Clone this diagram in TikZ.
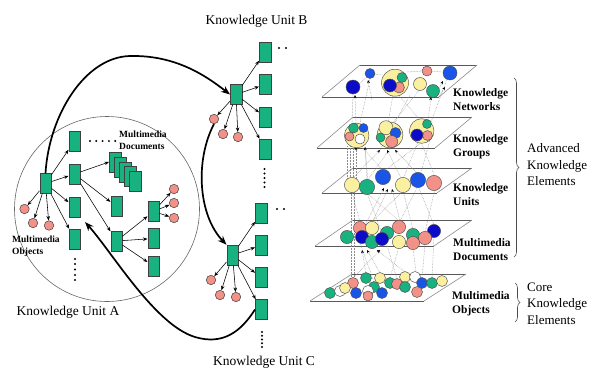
\documentclass[tikz,border=0pt]{standalone}
\usepackage{fontspec}
\setmainfont{Liberation Serif}
\usetikzlibrary{arrows.meta,decorations.pathreplacing}
\definecolor{kgreen}{RGB}{24,178,128}
\definecolor{kpink}{RGB}{242,145,135}
\definecolor{kdblue}{RGB}{12,12,200}
\definecolor{kblue}{RGB}{25,85,230}
\definecolor{kyellow}{RGB}{250,240,160}
\newcommand\kcirc[4]{\filldraw[fill=#1,draw=black!70,line width=0.45pt] (#2,#3) circle[radius=#4pt];}
\begin{document}
\begin{tikzpicture}[x=1pt,y=-1pt,
  box/.style={draw=black!75,fill=kgreen,minimum width=11.5pt,minimum height=20pt,inner sep=0pt,line width=0.5pt},
  obj/.style={circle,draw=black!75,fill=kpink,minimum size=9.5pt,inner sep=0pt,line width=0.5pt},
  arr/.style={-{Stealth[length=4.5pt,width=3.5pt]},line width=0.55pt},
  bigarr/.style={-{Stealth[length=9pt,width=7pt]},line width=1.7pt},
  dotl/.style={draw=black!45,densely dotted,line width=0.5pt},
  tipend/.style={-{Stealth[length=3.2pt,width=2.8pt,color=black]}},
  hedge/.style={draw=black!65,line width=0.8pt},
  sedge/.style={draw=black!45,line width=0.6pt},
  title/.style={font=\fontsize{13.5}{16}\selectfont},
  small/.style={font=\bfseries\fontsize{9.5}{12}\selectfont,align=left,inner sep=0pt},
  lbl/.style={font=\bfseries\fontsize{11.5}{14}\selectfont,align=left,inner sep=0pt,anchor=west},
  biglbl/.style={font=\fontsize{13}{16.5}\selectfont,align=left,inner sep=0pt,anchor=west},
  dotm/.style={fill=black},
  brc/.style={decorate,decoration={brace,amplitude=5pt},draw=black!70,line width=0.6pt}]
\fill[white] (0,0) rectangle (599,370);
\useasboundingbox (0,0) rectangle (599,370);

% ===== Knowledge Unit A =====
\draw[black!60,line width=0.6pt] (107,209) circle[radius=92.5pt];
\node[box] (a0) at (45.5,183.5) {};
\foreach \n/\y in {1/141,2/174,3/207,4/239} \node[box] (a\n) at (74.5,\y) {};
\foreach \k in {0,...,4} \node[box] (d\k) at ({115+5*\k},{162+4.9*\k}) {};
\node[box] (m1) at (116.5,206.5) {};
\node[box] (m2) at (116.5,241) {};
\node[box] (e1) at (153.5,211.5) {};
\node[box] (e2) at (153.5,238.5) {};
\node[box] (e3) at (153.5,266) {};
\node[obj] (o1) at (174,189) {};
\node[obj] (o2) at (174,203) {};
\node[obj] (o3) at (174,218) {};
\node[obj] (p1) at (24.5,209) {};
\node[obj] (p2) at (33,223) {};
\node[obj] (p3) at (49,225.5) {};
\foreach \t in {a1,a2,a3,a4,p1,p2,p3} \draw[arr] (a0) -- (\t);
\draw[arr] (a2) -- (d0.west);
\draw[arr] (a2) -- (m1);
\draw[arr] (a2) -- (m2);
\foreach \t in {e1,e2,e3} \draw[arr] (m2) -- (\t);
\foreach \t in {o1,o2,o3} \draw[arr] (e1) -- (\t);
\foreach \x in {90,96.3,102.6,108.9,115.2} \fill[dotm] (\x,141) circle[radius=1.1pt];
\foreach \y in {259,264,269.5,275,280} \fill[dotm] (75,\y) circle[radius=1.1pt];
\node[small,anchor=west] (mdoc) at (119,140) {Multimedia\\Documents};
\node[small,anchor=west] (mobj) at (12,246) {Multimedia\\Objects};
\node[title] (ta) at (68,312) {Knowledge Unit A};

% ===== Knowledge Unit B =====
\node[title] (tb) at (256.5,21) {Knowledge Unit B};
\node[box] (B0) at (236,94.5) {};
\foreach \n/\y in {1/52,2/84.5,3/117,4/149} \node[box] (B\n) at (265,\y) {};
\node[obj] (Bo1) at (214,119) {};
\node[obj] (Bo2) at (223,134) {};
\node[obj] (Bo3) at (238,137) {};
\foreach \t in {B1,B2,B3,B4,Bo1,Bo2,Bo3} \draw[arr] (B0) -- (\t);
\foreach \x in {279,286} \fill[dotm] (\x,48) circle[radius=1.1pt];
\foreach \y in {169,173.5,178,182.5,187} \fill[dotm] (264.5,\y) circle[radius=1.1pt];

% ===== Knowledge Unit C =====
\node[box] (C0) at (232.5,255) {};
\foreach \n/\y in {1/213,2/245.5,3/277.5,4/309.5} \node[box] (C\n) at (261,\y) {};
\node[obj] (Co1) at (211,280) {};
\node[obj] (Co2) at (220,295) {};
\node[obj] (Co3) at (236,297) {};
\foreach \t in {C1,C2,C3,C4,Co1,Co2,Co3} \draw[arr] (C0) -- (\t);
\foreach \x in {277,284} \fill[dotm] (\x,209) circle[radius=1.1pt];
\foreach \y in {332,335.75,339.5,343.25,347} \fill[dotm] (262,\y) circle[radius=1.1pt];
\node[title] (tc) at (264,362) {Knowledge Unit C};

% ===== thick links =====
\coordinate (aT) at (85,222);
\draw[bigarr] (a0.north) .. controls (49,115) and (85,57) .. (130,56) .. controls (175,55) and (205,75) .. (B0.west);
\draw[bigarr] (Bo1.south) .. controls (195,160) and (198,215) .. (C0.north west);
\draw[bigarr] (C4.west) .. controls (240,333) and (222,345) .. (195,337) .. controls (155,325) and (112,252) .. (aT);

% ===== layered planes =====
\foreach \bl/\br/\tr/\tl/\yb/\yt in {322/439/477/360/97/65, 317/435/472/353/148/117, 322/437/472/353/193/168, 315/434/472/353/246/220, 310/424/466/352/301/274}{
  \draw[hedge] (\bl,\yb) -- (\br,\yb);
  \draw[hedge] (\tl,\yt) -- (\tr,\yt);
  \draw[sedge] (\bl,\yb) -- (\tl,\yt);
  \draw[sedge] (\br,\yb) -- (\tr,\yt);
}

% dotted links
\foreach \xa/\ya/\xb/\yb in {
  353/93/352/124, 370/79/360/123, 393/95/388/123, 398/95/420/120, 420/89/393/123,
  410/95/380/150, 447/79/431/122, 370/74/383/75, 407/72/424/71, 430/71/444/72, 356/87/368/76,
  350/146/350/180, 353/146/353/180, 362/147/383/171, 365/147/367/181, 392/146/367/181,
  421/142/435/177, 418/142/403/179, 425/140/384/171, 430/140/420/176, 347/146/347/180,
  351/192/351/285, 354/192/354/285, 352/192/360/222, 367/193/382/233, 403/191/413/229,
  418/186/400/221, 418/186/434/225, 435/189/425/232, 367/193/399/221, 403/191/361/232,
  387/245/397/279, 399/247/390/278, 413/248/416/272, 425/244/422/278, 434/236/432/278, 360/243/374/282}
  \draw[dotl] (\xa,\ya) -- (\xb,\yb);
\foreach \xa/\ya/\xb/\yb in {
  356/124/355/95, 372/100/368/80, 428/121/431/97, 436/95/443/81, 438/98/445/87,
  352/179/380/150, 402/180/387/150, 418/174/395/150, 356/180/356/147, 368/181/365/147,
  362/231/384/188, 372/223/388/189, 400/221/392/189,
  366/273/362/250, 380/273/367/250, 405/272/377/250, 353/278/380/250}
  \draw[dotl,tipend] (\xa,\ya) -- (\xb,\yb);

% layer 1 circles
\kcirc{kdblue}{353}{87}{7}
\kcirc{kblue}{370}{73.5}{5}
\kcirc{kyellow}{395}{82.7}{13.5}
\kcirc{kgreen}{402}{77.5}{5}
\kcirc{kpink}{399}{87.5}{5.5}
\kcirc{kdblue}{390}{85.5}{6.5}
\kcirc{kyellow}{420}{84}{6.5}
\kcirc{kpink}{427}{71}{5}
\kcirc{kgreen}{433}{91}{6.5}
\kcirc{kblue}{450}{73}{7}
% layer 2 groups
\kcirc{kyellow}{356.7}{135.5}{12.3}
\kcirc{kgreen}{353.5}{128}{5}
\kcirc{kblue}{363.5}{128}{4.5}
\kcirc{kpink}{349.5}{136.5}{4.5}
\kcirc{white}{360}{139}{5}
\kcirc{kyellow}{390}{135}{13}
\kcirc{kyellow}{386}{127.7}{7}
\kcirc{kblue}{395.5}{133}{5.5}
\kcirc{kgreen}{380.5}{137.5}{4.5}
\kcirc{kpink}{391.7}{141.5}{6}
\kcirc{kyellow}{421.7}{131}{12.3}
\kcirc{kgreen}{427}{124}{4.5}
\kcirc{kpink}{427.5}{135.5}{5}
\kcirc{kdblue}{417}{135}{6}
% layer 3
\kcirc{kyellow}{352}{185}{7.6}
\kcirc{kgreen}{367}{187}{7.6}
\kcirc{kblue}{383}{177}{7.6}
\kcirc{kyellow}{403}{185}{7.6}
\kcirc{kblue}{418}{180}{7.6}
\kcirc{kpink}{434}{183}{7.6}
% layer 4
\kcirc{kpink}{360}{228}{6.6}
\kcirc{kyellow}{372}{228}{6.6}
\kcirc{kgreen}{387}{233}{6.6}
\kcirc{kpink}{399}{227}{6.6}
\kcirc{kdblue}{434}{231}{6.6}
\kcirc{kgreen}{347}{237}{6.6}
\kcirc{kgreen}{413}{235}{6.6}
\kcirc{kyellow}{399}{242}{6.6}
\kcirc{kpink}{425}{238}{6.6}
\kcirc{kpink}{413}{243}{6.6}
\kcirc{kdblue}{362}{237}{6.6}
\kcirc{kgreen}{372}{242}{6.6}
\kcirc{kdblue}{382}{239}{6.6}
% layer 5
\kcirc{kpink}{353}{283}{5.5}
\kcirc{kgreen}{366}{278}{5.5}
\kcirc{kyellow}{380}{278}{5.5}
\kcirc{kyellow}{405}{277}{5.5}
\kcirc{white}{415}{277}{5.5}
\kcirc{kgreen}{390}{283}{5.5}
\kcirc{kpink}{397}{284}{5.5}
\kcirc{kgreen}{374}{287}{5.5}
\kcirc{kgreen}{405}{287}{5.5}
\kcirc{kblue}{422}{283}{5.5}
\kcirc{kgreen}{432}{283}{5.5}
\kcirc{kyellow}{442}{281}{5.5}
\kcirc{kpink}{417}{292}{5.5}
\kcirc{kgreen}{330}{293}{5.5}
\kcirc{white}{340}{291}{5.5}
\kcirc{kyellow}{345}{288}{5.5}
\kcirc{kblue}{356}{293}{5.5}
\kcirc{white}{368}{291}{5.5}
\kcirc{kpink}{368}{296}{5}
\kcirc{kblue}{382}{293}{5.5}

% labels
\node[lbl] (ln) at (453,100) {Knowledge\\Networks};
\node[lbl] (lg) at (453,146.5) {Knowledge\\Groups};
\node[lbl] (lu) at (453,195) {Knowledge\\Units};
\node[lbl] (ld) at (453,250) {Multimedia\\Documents};
\node[lbl] (lo) at (452,303.5) {Multimedia\\Objects};
\draw[brc] (514,78) -- (514,257);
\draw[brc] (515,283) -- (515,322);
\node[biglbl] (adv) at (527,165) {Advanced\\Knowledge\\Elements};
\node[biglbl] (core) at (527,303.5) {Core\\Knowledge\\Elements};
\end{tikzpicture}
\end{document}
